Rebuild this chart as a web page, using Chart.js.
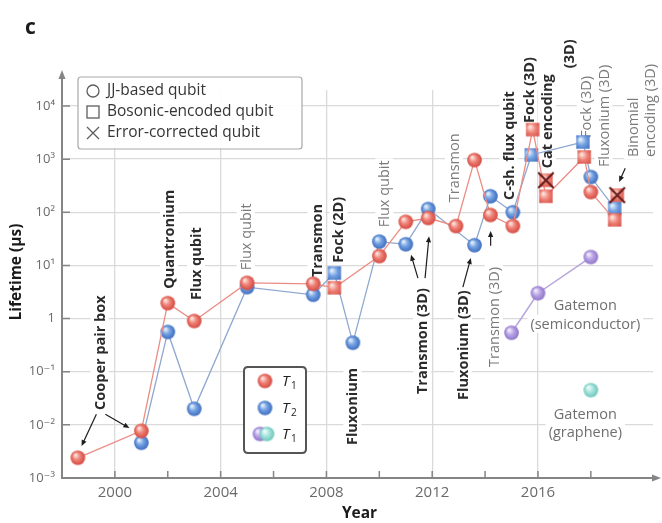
<!DOCTYPE html>
<html>
<head>
<meta charset="utf-8">
<title>Qubit lifetimes</title>
<script src="https://cdn.jsdelivr.net/npm/chart.js@4.4.1/dist/chart.umd.min.js"></script>
<style>
  html, body { margin: 0; padding: 0; background: #ffffff; }
  #wrap { width: 662px; height: 523px; }
</style>
</head>
<body>
<div id="wrap"><canvas id="chart" width="662" height="523"></canvas></div>
<script>
// ---- data: lifetimes in microseconds, by year of publication ----
const t1Years  = [1998.6, 2001, 2002, 2003, 2005, 2007.5, 2008.3, 2010, 2011, 2011.85, 2012.9, 2013.6, 2014.2, 2015.05, 2015.8, 2016.3, 2017.75, 2018, 2018.9];
const t1Values = [0.0024, 0.0077, 1.95, 0.9, 4.7, 4.5, 3.8, 15, 66, 78, 55, 960, 89, 55, 3600, 200, 1100, 240, 72];
const t1Kinds  = ['jj','jj','jj','jj','jj','jj','boson','jj','jj','jj','jj','jj','jj','jj','boson','boson','boson','jj','boson'];

const t2Years  = [2001, 2002, 2003, 2005, 2007.5, 2008.3, 2009, 2010, 2011, 2011.85, 2013.6, 2014.2, 2015.05, 2015.75, 2017.7, 2018, 2018.9];
const t2Values = [0.0046, 0.56, 0.02, 3.9, 2.8, 7.2, 0.35, 28, 25, 115, 24, 200, 100, 1200, 2100, 460, 120];
const t2Kinds  = ['jj','jj','jj','jj','jj','boson','jj','jj','jj','jj','jj','jj','jj','boson','boson','jj','boson'];

const correctedYears  = [2016.3, 2019.0];
const correctedValues = [400, 210];

const gatemonSemiYears  = [2015, 2016, 2018];
const gatemonSemiValues = [0.54, 3.0, 14.4];

const gatemonGrapheneYears  = [2018];
const gatemonGrapheneValues = [0.045];

const yearTicks = [2000, 2002, 2004, 2006, 2008, 2010, 2012, 2014, 2016, 2018];
const decadeTicks = [1e-3, 1e-2, 1e-1, 1, 10, 100, 1000, 10000];

// ---- text annotations, anchored in data space (year, log10 lifetime) ----
const annotations = [
  { text: 'Cooper pair box',  year: 1999.42, exp: -1.72, bold: true },
  { text: 'Quantronium',      year: 2002.05, exp: 0.56,  bold: true },
  { text: 'Flux qubit',       year: 2003.07, exp: 0.35,  bold: true },
  { text: 'Flux qubit',       year: 2004.95, exp: 0.91,  bold: false },
  { text: 'Transmon',         year: 2007.62, exp: 0.78,  bold: true },
  { text: 'Fock (2D)',        year: 2008.45, exp: 1.05,  bold: true },
  { text: 'Fluxonium',        year: 2008.98, exp: -2.38, bold: true },
  { text: 'Flux qubit',       year: 2010.19, exp: 1.72,  bold: false },
  { text: 'Transmon (3D)',    year: 2011.62, exp: -1.42, bold: true },
  { text: 'Transmon',         year: 2012.82, exp: 2.19,  bold: false },
  { text: 'Fluxonium (3D)',   year: 2013.16, exp: -1.53, bold: true },
  { text: 'Transmon (3D)',    year: 2014.33, exp: -0.91, bold: false },
  { text: 'C-sh. flux qubit', year: 2014.89, exp: 2.23,  bold: true },
  { text: 'Fock (3D)',        year: 2015.64, exp: 3.68,  bold: true },
  { text: 'Cat encoding',     year: 2016.34, exp: 2.83,  bold: true },
  { text: '(3D)',             year: 2017.17, exp: 4.71,  bold: true },
  { text: 'Fock (3D)',        year: 2017.81, exp: 3.40,  bold: false },
  { text: 'Fluxonium (3D)',   year: 2018.48, exp: 2.85,  bold: false },
  { text: 'Binomial',         year: 2019.60, exp: 3.04,  bold: false },
  { text: 'encoding (3D)',    year: 2020.24, exp: 3.04,  bold: false }
];

const captions = [
  { text: 'Gatemon',         year: 2017.79, exp: 0.256 },
  { text: '(semiconductor)', year: 2017.79, exp: -0.10 },
  { text: 'Gatemon',         year: 2017.79, exp: -1.80 },
  { text: '(graphene)',      year: 2017.79, exp: -2.13 }
];

// pointer arrows: from [year, exp] to [year, exp]
const pointers = [
  [[1999.30, -1.80], [1998.74, -2.40]],
  [[1999.64, -1.80], [2000.55, -2.06]],
  [[2011.46, 0.76], [2011.20, 1.20]],
  [[2011.73, 0.76], [2011.88, 1.55]],
  [[2013.16, 0.59], [2013.46, 1.14]],
  [[2014.21, 1.37], [2014.21, 1.65]],
  [[2019.30, 2.83], [2019.07, 2.57]]
];

const FONT = '"Open Sans", "DejaVu Sans", sans-serif';

// ---- marker sprites: shaded balls and cubes ----
const palettes = {
  red:    ['#fde3de', '#ef8378', '#d4483f'],
  blue:   ['#e3eefb', '#74a2e2', '#3d6cbf'],
  purple: ['#f3ecfd', '#bba6e6', '#8e73c8'],
  cyan:   ['#effcfa', '#a9e6de', '#6cc6bb']
};

function ball(p, r) {
  const s = Math.ceil(r * 2 + 2);
  const c = document.createElement('canvas');
  c.width = s; c.height = s;
  const g = c.getContext('2d');
  const cx = s / 2, cy = s / 2;
  const grad = g.createRadialGradient(cx - r * 0.35, cy - r * 0.4, r * 0.1, cx, cy, r);
  grad.addColorStop(0, p[0]);
  grad.addColorStop(0.45, p[1]);
  grad.addColorStop(1, p[2]);
  g.fillStyle = grad;
  g.beginPath(); g.arc(cx, cy, r, 0, Math.PI * 2); g.fill();
  return c;
}

function cube(p, half, cross) {
  const s = Math.ceil(half * 2 + 4);
  const c = document.createElement('canvas');
  c.width = s; c.height = s;
  const g = c.getContext('2d');
  const cx = s / 2, cy = s / 2;
  const grad = g.createRadialGradient(cx - half * 0.4, cy - half * 0.4, half * 0.1, cx, cy, half * 1.4);
  grad.addColorStop(0, p[0]);
  grad.addColorStop(0.45, p[1]);
  grad.addColorStop(1, p[2]);
  g.fillStyle = grad;
  g.fillRect(cx - half, cy - half, half * 2, half * 2);
  if (cross) {
    g.strokeStyle = '#6b1f1c';
    g.lineWidth = 2.2;
    g.beginPath();
    g.moveTo(cx - half - 1, cy - half - 1); g.lineTo(cx + half + 1, cy + half + 1);
    g.moveTo(cx + half + 1, cy - half - 1); g.lineTo(cx - half - 1, cy + half + 1);
    g.stroke();
  }
  return c;
}

const sprites = {
  redBall: ball(palettes.red, 7.3),
  blueBall: ball(palettes.blue, 7.3),
  purpleBall: ball(palettes.purple, 7.3),
  cyanBall: ball(palettes.cyan, 7.3),
  redCube: cube(palettes.red, 6.7, false),
  blueCube: cube(palettes.blue, 6.7, false),
  crossCube: cube(palettes.red, 6.7, true)
};

const toPoints = (xs, ys) => xs.map((x, i) => ({ x: x, y: ys[i] }));

// ---- drawing helpers for the annotation layer ----
function verticalText(ctx, text, x, y, font, color) {
  ctx.save();
  ctx.font = font;
  const w = ctx.measureText(text).width;
  ctx.translate(x, y);
  ctx.rotate(-Math.PI / 2);
  ctx.fillStyle = '#ffffff';
  ctx.fillRect(-2, -9, w + 4, 18);
  ctx.fillStyle = color;
  ctx.textAlign = 'left';
  ctx.textBaseline = 'middle';
  ctx.fillText(text, 0, 1);
  ctx.restore();
}

function arrowLine(ctx, x0, y0, x1, y1) {
  const a = Math.atan2(y1 - y0, x1 - x0);
  const hl = 6, hw = 2.6;
  ctx.save();
  ctx.strokeStyle = '#1e1e1e';
  ctx.fillStyle = '#1e1e1e';
  ctx.lineWidth = 1.2;
  ctx.beginPath();
  ctx.moveTo(x0, y0);
  ctx.lineTo(x1 - Math.cos(a) * hl * 0.8, y1 - Math.sin(a) * hl * 0.8);
  ctx.stroke();
  ctx.beginPath();
  ctx.moveTo(x1, y1);
  ctx.lineTo(x1 - Math.cos(a) * hl - Math.sin(a) * hw, y1 - Math.sin(a) * hl + Math.cos(a) * hw);
  ctx.lineTo(x1 - Math.cos(a) * hl + Math.sin(a) * hw, y1 - Math.sin(a) * hl - Math.cos(a) * hw);
  ctx.closePath();
  ctx.fill();
  ctx.restore();
}

function subscriptT(ctx, x, y, sub) {
  ctx.save();
  ctx.fillStyle = '#222';
  ctx.textBaseline = 'alphabetic';
  ctx.textAlign = 'left';
  ctx.font = 'italic 15px ' + FONT;
  ctx.fillText('T', x, y);
  ctx.font = '10px ' + FONT;
  ctx.fillText(sub, x + 9, y + 3);
  ctx.restore();
}

function roundRect(ctx, x, y, w, h, r) {
  ctx.beginPath();
  ctx.moveTo(x + r, y);
  ctx.lineTo(x + w - r, y); ctx.quadraticCurveTo(x + w, y, x + w, y + r);
  ctx.lineTo(x + w, y + h - r); ctx.quadraticCurveTo(x + w, y + h, x + w - r, y + h);
  ctx.lineTo(x + r, y + h); ctx.quadraticCurveTo(x, y + h, x, y + h - r);
  ctx.lineTo(x, y + r); ctx.quadraticCurveTo(x, y, x + r, y);
  ctx.closePath();
}

const annotationLayer = {
  id: 'annotationLayer',
  beforeDatasetsDraw(chart) {
    const ctx = chart.ctx;
    const xs = chart.scales.x, ys = chart.scales.y;
    const area = chart.chartArea;

    // axis arrowheads and extensions
    ctx.save();
    ctx.strokeStyle = '#858585';
    ctx.fillStyle = '#858585';
    ctx.lineWidth = 2;
    ctx.beginPath();
    ctx.moveTo(area.left, area.top); ctx.lineTo(area.left, 78);
    ctx.stroke();
    ctx.beginPath();
    ctx.moveTo(area.left, 70); ctx.lineTo(area.left - 3.5, 79); ctx.lineTo(area.left + 3.5, 79);
    ctx.closePath(); ctx.fill();
    ctx.beginPath();
    ctx.moveTo(661, area.bottom); ctx.lineTo(652, area.bottom - 3.5); ctx.lineTo(652, area.bottom + 3.5);
    ctx.closePath(); ctx.fill();

    // inward tick marks
    ctx.lineWidth = 1.5;
    ctx.beginPath();
    yearTicks.forEach(v => {
      const px = xs.getPixelForValue(v);
      ctx.moveTo(px, area.bottom); ctx.lineTo(px, area.bottom - 7);
    });
    decadeTicks.forEach(v => {
      const py = ys.getPixelForValue(v);
      if (v > 1e-3) { ctx.moveTo(area.left, py); ctx.lineTo(area.left + 8, py); }
    });
    ctx.stroke();
    ctx.restore();

    // vertical labels
    annotations.forEach(a => {
      const px = xs.getPixelForValue(a.year);
      const py = ys.getPixelForValue(Math.pow(10, a.exp));
      const font = (a.bold ? 'bold 14.5px ' : '14.5px ') + FONT;
      verticalText(ctx, a.text, px, py, font, a.bold ? '#2b2b2b' : '#7a7a7a');
    });

    // horizontal captions
    ctx.save();
    ctx.font = '14.5px ' + FONT;
    ctx.textAlign = 'center';
    ctx.textBaseline = 'middle';
    captions.forEach(c => {
      const px = xs.getPixelForValue(c.year);
      const py = ys.getPixelForValue(Math.pow(10, c.exp));
      const w = ctx.measureText(c.text).width;
      ctx.fillStyle = '#ffffff';
      ctx.fillRect(px - w / 2 - 3, py - 9, w + 6, 18);
      ctx.fillStyle = '#6f6f6f';
      ctx.fillText(c.text, px, py + 1);
    });
    ctx.restore();
  },
  afterDatasetsDraw(chart) {
    const ctx = chart.ctx;
    const xs = chart.scales.x, ys = chart.scales.y;
    pointers.forEach(p => {
      arrowLine(ctx,
        xs.getPixelForValue(p[0][0]), ys.getPixelForValue(Math.pow(10, p[0][1])),
        xs.getPixelForValue(p[1][0]), ys.getPixelForValue(Math.pow(10, p[1][1])));
    });
  },
  afterDraw(chart) {
    const ctx = chart.ctx;
    const area = chart.chartArea;

    // panel letter
    ctx.save();
    ctx.fillStyle = '#1a1a1a';
    ctx.font = 'bold 21px ' + FONT;
    ctx.textBaseline = 'alphabetic';
    ctx.fillText('c', 25, 34);

    // axis titles
    ctx.font = 'bold 15.5px ' + FONT;
    ctx.textAlign = 'center';
    ctx.textBaseline = 'middle';
    ctx.fillText('Year', (area.left + area.right) / 2 + 2, 514);
    ctx.save();
    ctx.translate(17, 272);
    ctx.rotate(-Math.PI / 2);
    ctx.fillText('Lifetime (µs)', 0, 0);
    ctx.restore();

    // marker-type key
    ctx.fillStyle = 'rgba(255,255,255,0.92)';
    ctx.strokeStyle = '#a9a9a9';
    ctx.lineWidth = 1.2;
    roundRect(ctx, 78, 77, 224, 72, 3);
    ctx.fill(); ctx.stroke();
    ctx.strokeStyle = '#5e5e5e';
    ctx.lineWidth = 1.3;
    ctx.beginPath(); ctx.arc(93, 91, 6, 0, Math.PI * 2); ctx.stroke();
    ctx.strokeRect(87, 106, 12, 12);
    ctx.beginPath();
    ctx.moveTo(87, 127); ctx.lineTo(99, 139);
    ctx.moveTo(99, 127); ctx.lineTo(87, 139);
    ctx.stroke();
    ctx.fillStyle = '#363636';
    ctx.font = '15.5px ' + FONT;
    ctx.textAlign = 'left';
    ctx.fillText('JJ-based qubit', 107, 91);
    ctx.fillText('Bosonic-encoded qubit', 107, 112);
    ctx.fillText('Error-corrected qubit', 107, 133);

    // colour key
    ctx.fillStyle = '#ffffff';
    ctx.strokeStyle = '#555555';
    ctx.lineWidth = 2;
    roundRect(ctx, 244, 367, 62, 86, 4);
    ctx.fill(); ctx.stroke();
    const b = sprites.redBall;
    ctx.drawImage(sprites.redBall, 265 - b.width / 2, 381 - b.height / 2);
    ctx.drawImage(sprites.blueBall, 265 - b.width / 2, 408 - b.height / 2);
    ctx.drawImage(sprites.purpleBall, 260 - b.width / 2, 434 - b.height / 2);
    ctx.drawImage(sprites.cyanBall, 267 - b.width / 2, 434 - b.height / 2);
    subscriptT(ctx, 282, 386, '1');
    subscriptT(ctx, 282, 413, '2');
    subscriptT(ctx, 282, 439, '1');
    ctx.restore();
  }
};

const superDigits = { '-': '⁻', '0': '⁰', '1': '¹', '2': '²', '3': '³', '4': '⁴', '5': '⁵', '6': '⁶', '7': '⁷', '8': '⁸', '9': '⁹' };
function decadeLabel(v) {
  const e = Math.round(Math.log10(v));
  if (e === 0) return '1';
  return '10' + String(e).split('').map(ch => superDigits[ch]).join('');
}

new Chart(document.getElementById('chart'), {
  type: 'scatter',
  data: {
    datasets: [
      {
        label: 'Error-corrected',
        data: toPoints(correctedYears, correctedValues),
        pointStyle: sprites.crossCube,
        pointRadius: 8,
        showLine: false
      },
      {
        label: 'T1',
        data: toPoints(t1Years, t1Values),
        showLine: true,
        borderColor: '#ec8c84',
        borderWidth: 1.3,
        pointRadius: 7,
        pointStyle: ctx => t1Kinds[ctx.dataIndex] === 'boson' ? sprites.redCube : sprites.redBall
      },
      {
        label: 'T2',
        data: toPoints(t2Years, t2Values),
        showLine: true,
        borderColor: '#8ea8cf',
        borderWidth: 1.3,
        pointRadius: 7,
        pointStyle: ctx => t2Kinds[ctx.dataIndex] === 'boson' ? sprites.blueCube : sprites.blueBall
      },
      {
        label: 'Gatemon (semiconductor)',
        data: toPoints(gatemonSemiYears, gatemonSemiValues),
        showLine: true,
        borderColor: '#b7a5dc',
        borderWidth: 1.5,
        pointRadius: 7,
        pointStyle: sprites.purpleBall
      },
      {
        label: 'Gatemon (graphene)',
        data: toPoints(gatemonGrapheneYears, gatemonGrapheneValues),
        showLine: false,
        pointRadius: 7,
        pointStyle: sprites.cyanBall
      }
    ]
  },
  options: {
    responsive: false,
    devicePixelRatio: 1,
    animation: false,
    layout: { padding: { top: 90, right: 6, left: 0, bottom: 0 } },
    plugins: { legend: { display: false }, tooltip: { enabled: false } },
    scales: {
      x: {
        type: 'linear',
        min: 1998,
        max: 2020.35,
        afterBuildTicks: s => { s.ticks = yearTicks.map(v => ({ value: v })); },
        afterFit: s => { s.height = 45; },
        grid: {
          drawTicks: false,
          lineWidth: 1.3,
          color: c => (c.tick && c.tick.value % 4 === 0) ? '#dadada' : 'rgba(0,0,0,0)'
        },
        border: { color: '#858585', width: 2 },
        ticks: {
          padding: 6,
          maxRotation: 0,
          autoSkip: false,
          color: '#6a6a6a',
          font: { family: FONT, size: 15 },
          callback: v => (v % 4 === 0 ? String(v) : '')
        }
      },
      y: {
        type: 'logarithmic',
        min: 1e-3,
        max: Math.pow(10, 4.301),
        afterBuildTicks: s => { s.ticks = decadeTicks.map(v => ({ value: v })); },
        afterFit: s => { s.width = 62; },
        grid: { drawTicks: false, lineWidth: 1.3, color: '#dadada' },
        border: { color: '#858585', width: 2 },
        ticks: {
          padding: 7,
          autoSkip: false,
          color: '#6a6a6a',
          font: { family: FONT, size: 13 },
          callback: v => decadeLabel(v)
        }
      }
    }
  },
  plugins: [annotationLayer]
});
</script>
</body>
</html>
